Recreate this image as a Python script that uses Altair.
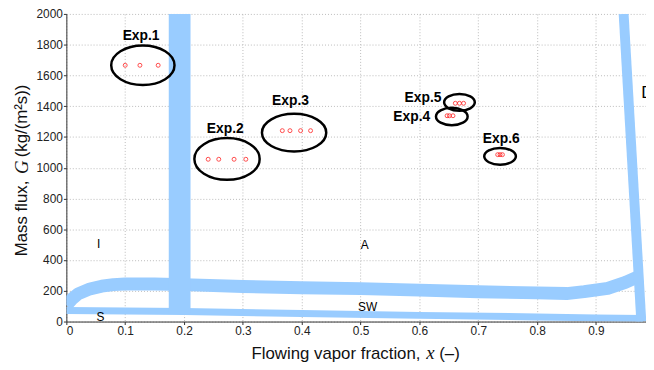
import altair as alt
import pandas as pd

# ---- boundary curves ----
upper_x = [0.0, 0.01, 0.02, 0.04, 0.06, 0.08, 0.10, 0.15, 0.20, 0.30, 0.40, 0.50, 0.60, 0.70, 0.80, 0.85, 0.88, 0.92, 0.95, 0.972]
upper_g = [105, 148, 180, 212, 230, 240, 244, 244, 240, 228, 220, 214, 204, 194, 186, 182, 194, 216, 255, 292]

lower_x = [0.0, 0.2, 0.4, 0.6, 0.8, 0.9, 0.98]
lower_g = [72, 65, 52, 40, 30, 24, 20]

vert_x = [0.1925, 0.1925]
vert_g = [55, 2000]

right_x = [0.947, 0.977]
right_g = [2000, 0]

# ---- experiments ----
exp_names = ["Exp.1"] * 3 + ["Exp.2"] * 4 + ["Exp.3"] * 4 + ["Exp.4"] * 3 + ["Exp.5"] * 3 + ["Exp.6"] * 3
exp_x = [0.100, 0.125, 0.156,
         0.241, 0.259, 0.285, 0.305,
         0.367, 0.380, 0.398, 0.415,
         0.647, 0.651, 0.657,
         0.661, 0.668, 0.675,
         0.733, 0.737, 0.741]
exp_g = [1666, 1666, 1666,
         1055, 1055, 1055, 1055,
         1241, 1241, 1241, 1241,
         1338, 1338, 1338,
         1419, 1419, 1419,
         1085, 1085, 1085]

ell_names = ["Exp.1", "Exp.2", "Exp.3", "Exp.4", "Exp.5", "Exp.6"]
ell_x = [0.130, 0.273, 0.387, 0.655, 0.668, 0.737]
ell_g = [1666, 1057, 1228, 1333, 1425, 1074]
ell_w = [64, 66, 65, 32, 31, 32]
ell_ratio = [0.625, 0.64, 0.585, 0.55, 0.55, 0.53]

lab_x = [0.127, 0.270, 0.381, 0.587, 0.606, 0.739]
lab_g = [1858, 1254, 1434, 1327, 1451, 1188]

region_text = ["I", "A", "SW", "S"]
region_x = [0.055, 0.507, 0.512, 0.058]
region_g = [505, 495, 96, 32]

x_ticks = [0, 0.1, 0.2, 0.3, 0.4, 0.5, 0.6, 0.7, 0.8, 0.9]
y_ticks = list(range(0, 2001, 200))

blue = "#99CCFF"
X = alt.X("x:Q", scale=alt.Scale(domain=[0, 0.985], nice=False),
          axis=alt.Axis(values=x_ticks,
                        labelExpr="datum.value == 0 ? '0' : format(datum.value, '.1f')",
                        title=""))
Y = alt.Y("g:Q", scale=alt.Scale(domain=[0, 2000], nice=False),
          axis=alt.Axis(values=y_ticks, format="d", title=""))


def line_layer(xs, gs, width):
    df = pd.DataFrame({"x": xs, "g": gs, "o": list(range(len(xs)))})
    return alt.Chart(df).mark_line(color=blue, strokeWidth=width, strokeCap="butt",
                                   strokeJoin="round", clip=True).encode(x=X, y=Y, order="o:Q")


upper = line_layer(upper_x, upper_g, 13)
lower = line_layer(lower_x, lower_g, 7)
vert = line_layer(vert_x, vert_g, 22)
right = line_layer(right_x, right_g, 10)

pts = alt.Chart(pd.DataFrame({"x": exp_x, "g": exp_g, "n": exp_names})).mark_point(
    shape="circle", color="red", size=16, strokeWidth=1, filled=False).encode(x=X, y=Y)

paths = ["M-1,0A1,%g,0,1,1,1,0A1,%g,0,1,1,-1,0Z" % (r, r) for r in ell_ratio]
ell_df = pd.DataFrame({"x": ell_x, "g": ell_g, "n": ell_names, "s": [w * w for w in ell_w]})
ells = alt.Chart(ell_df).mark_point(filled=False, color="black", strokeWidth=2.5, opacity=1).encode(
    x=X, y=Y,
    shape=alt.Shape("n:N", scale=alt.Scale(domain=ell_names, range=paths), legend=None),
    size=alt.Size("s:Q", scale=None))

labs = alt.Chart(pd.DataFrame({"x": lab_x, "g": lab_g, "t": ell_names})).mark_text(
    font="Liberation Sans", fontSize=14, fontWeight="bold", color="black").encode(x=X, y=Y, text="t:N")

regs = alt.Chart(pd.DataFrame({"x": region_x, "g": region_g, "t": region_text})).mark_text(
    font="Liberation Sans", fontSize=12, color="black").encode(x=X, y=Y, text="t:N")

dlab = alt.Chart(pd.DataFrame({"x": [0.977], "g": [1486], "t": ["D"]})).mark_text(
    font="Liberation Sans", fontSize=17, color="black", align="left").encode(x=X, y=Y, text="t:N")

# ---- axis titles (with italic symbols), placed in pixels relative to the plot area ----
one = pd.DataFrame({"k": [0]})
tcol = "#111"
xt1 = alt.Chart(one).mark_text(text="Flowing vapor fraction,", font="Liberation Sans", fontSize=17,
                               color=tcol, align="right", baseline="middle").encode(
    x=alt.value(358), y=alt.value(344))
xt2 = alt.Chart(one).mark_text(text="x", font="Liberation Serif", fontSize=19, fontStyle="italic",
                               color=tcol, align="center", baseline="middle").encode(
    x=alt.value(368), y=alt.value(343))
xt3 = alt.Chart(one).mark_text(text="(–)", font="Liberation Sans", fontSize=17,
                               color=tcol, align="left", baseline="middle").encode(
    x=alt.value(377), y=alt.value(344))
yt1 = alt.Chart(one).mark_text(text="Mass flux,", font="Liberation Sans", fontSize=17, angle=270,
                               color=tcol, align="left", baseline="middle").encode(
    x=alt.value(-45), y=alt.value(245))
yt2 = alt.Chart(one).mark_text(text="G", font="Liberation Serif", fontSize=19, fontStyle="italic", angle=270,
                               color=tcol, align="center", baseline="middle").encode(
    x=alt.value(-45), y=alt.value(155))
yt3 = alt.Chart(one).mark_text(text="(kg/(m²s))", font="Liberation Sans", fontSize=17, angle=270,
                               color=tcol, align="left", baseline="middle").encode(
    x=alt.value(-45), y=alt.value(145))

chart = alt.layer(upper, lower, vert, right, ells, pts, labs, regs, dlab,
                  xt1, xt2, xt3, yt1, yt2, yt3).properties(
    width=586, height=311,
    autosize=alt.AutoSizeParams(type="none"),
    padding={"left": 59, "top": 4, "right": 0, "bottom": 46},
).configure_view(stroke=None).configure_axis(
    labelFont="Liberation Sans", labelFontSize=12, labelColor="#222",
    grid=True, gridColor="#bbbbbb", gridDash=[1, 2], gridWidth=1,
    domainColor="#333", tickColor="#333", tickSize=3, labelPadding=1,
)

chart.save("out.html", embed_options={"renderer": "svg", "actions": False})
